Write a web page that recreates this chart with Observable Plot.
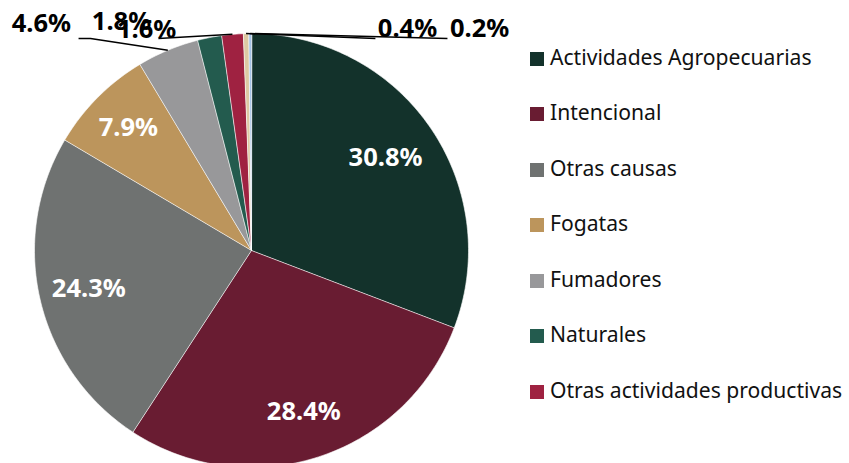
<!DOCTYPE html>
<html>
<head>
<meta charset="utf-8">
<script src="https://cdn.jsdelivr.net/npm/d3@7"></script>
<script src="https://cdn.jsdelivr.net/npm/@observablehq/plot@0.6"></script>
<style>
  html, body { margin: 0; padding: 0; background: #fff; }
  #wrap { position: relative; width: 849px; height: 463px; overflow: hidden; font-family: "Noto Sans", sans-serif; }
  #legend { position: absolute; left: 530px; top: 0; }
  .item { position: absolute; left: 0; white-space: nowrap; font-size: 21.1px; color: #111; line-height: 1; }
  .sw { position: absolute; left: 0; width: 14px; height: 14px; }
  .lab { position: absolute; left: 20px; }
</style>
</head>
<body>
<div id="wrap"><div id="chart"></div><div id="legend"></div></div>
<script>
// ---- data ----
const categories = [
  "Actividades Agropecuarias",
  "Intencional",
  "Otras causas",
  "Fogatas",
  "Fumadores",
  "Naturales",
  "Otras actividades productivas",
  "Cazadores",
  "Derechos de vía"
];
const values = [30.8, 28.4, 24.3, 7.9, 4.6, 1.8, 1.6, 0.4, 0.2];
const colors = ["#13322B", "#691C32", "#6F7271", "#BC955C", "#98989A", "#235B4E", "#9F2241", "#DDC9A3", "#A4C2E6"];
const legendCategories = categories.slice(0, 7);
// outside callout layout (unit-radius coordinates): label position and leader end points
const calloutIndex = [4, 5, 6, 7, 8];
const calloutLabel = [[-0.968, 1.043], [-0.599, 1.053], [-0.483, 1.018], [0.719, 1.023], [1.051, 1.023]];
const calloutLeader = [
  [[-0.742, 0.977], [-0.797, 0.977]],
  [],
  [[-0.429, 0.977]],
  [[0.571, 0.977]],
  [[0.903, 0.977]]
];

// ---- geometry from values ----
const total = d3.sum(values);
const starts = [];
{ let c = 0; values.forEach(v => { starts.push(c); c += v; }); }
const ang = p => p / total * 2 * Math.PI;
const slicePts = [];
values.forEach((v, i) => {
  const a0 = ang(starts[i]), a1 = ang(starts[i] + v);
  const n = Math.max(2, Math.ceil(v * 3));
  slicePts.push({cat: categories[i], x: 0, y: 0});
  for (let k = 0; k <= n; k++) {
    const a = a0 + (a1 - a0) * k / n;
    slicePts.push({cat: categories[i], x: Math.sin(a), y: Math.cos(a)});
  }
});
const mid = i => ang(starts[i] + values[i] / 2);
const fmt = v => v.toFixed(1) + "%";
const insideR = [0.75, 0.78, 0.77, 0.8];
const inside = [0, 1, 2, 3].map(i => ({label: fmt(values[i]), x: insideR[i] * Math.sin(mid(i)), y: insideR[i] * Math.cos(mid(i))}));
const outside = calloutIndex.map((i, j) => ({label: fmt(values[i]), x: calloutLabel[j][0], y: calloutLabel[j][1]}));
const leaders = [];
calloutIndex.forEach((i, j) => {
  if (!calloutLeader[j].length) return;
  leaders.push({k: j, x: Math.sin(mid(i)), y: Math.cos(mid(i))});
  calloutLeader[j].forEach(p => leaders.push({k: j, x: p[0], y: p[1]}));
});

const R = 217, cx = 251, cy = 250, W = 849, H = 463;
const chart = Plot.plot({
  width: W, height: H,
  margin: 0,
  x: {domain: [-cx / R, (W - cx) / R], range: [0, W], axis: null},
  y: {domain: [-(H - cy) / R, cy / R], range: [H, 0], axis: null},
  color: {domain: categories, range: colors},
  style: {fontFamily: "Noto Sans, sans-serif", background: "transparent"},
  marks: [
    Plot.line(slicePts, {x: "x", y: "y", z: "cat", fill: "cat", stroke: "white", strokeWidth: 0.6, curve: "linear-closed"}),
    Plot.line(leaders, {x: "x", y: "y", z: "k", stroke: "black", strokeWidth: 1.5, strokeLinecap: "butt"}),
    Plot.text(inside, {x: "x", y: "y", text: "label", fill: "white", fontSize: 25.5, fontWeight: "bold"}),
    Plot.text(outside, {x: "x", y: "y", text: "label", fill: "black", fontSize: 25.5, fontWeight: "bold"})
  ]
});
document.getElementById("chart").append(chart);

// legend
const legend = document.getElementById("legend");
legendCategories.forEach((c, i) => {
  const row = document.createElement("div");
  row.className = "item";
  row.style.top = (58.8 + i * 55.5 - 7) + "px";
  const sw = document.createElement("div");
  sw.className = "sw";
  sw.style.background = colors[i];
  const t = document.createElement("div");
  t.className = "lab";
  t.textContent = c;
  t.style.top = "-6px";
  row.append(sw, t);
  legend.append(row);
});
</script>
</body>
</html>
